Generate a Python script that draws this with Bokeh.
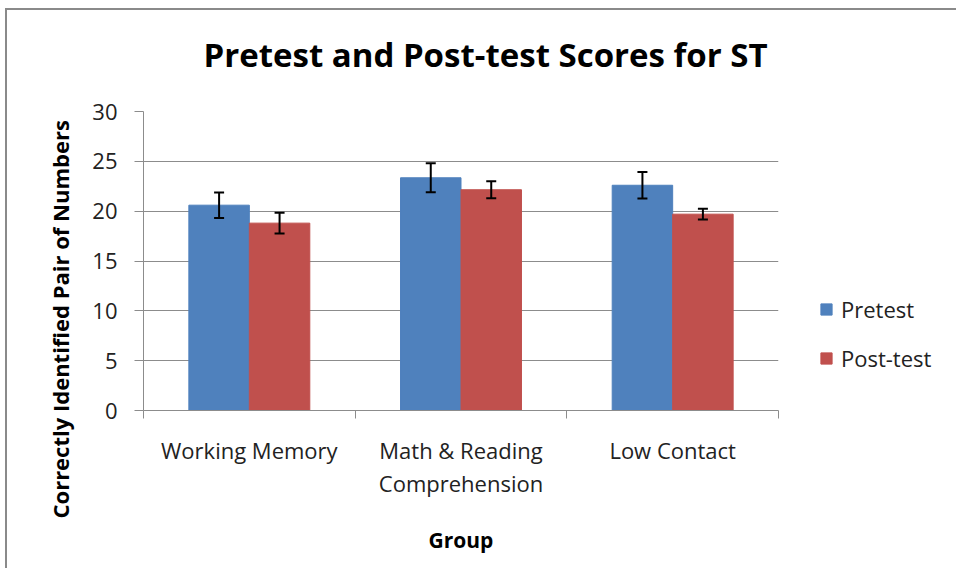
import numpy as np
from bokeh.plotting import figure
from bokeh.models import (ColumnDataSource, Whisker, TeeHead, Title, Legend, LegendItem,
                          FixedTicker, Range1d)
from bokeh.embed import file_html
from bokeh.resources import INLINE

# ---- data ----
groups = ["Working Memory", "Math & Reading Comprehension", "Low Contact"]
group_labels = ["Working Memory", "Math & Reading\nComprehension", "Low Contact"]
series = ["Pretest", "Post-test"]
pretest = [20.6, 23.35, 22.6]
pretest_err = [1.28, 1.45, 1.32]
posttest = [18.8, 22.15, 19.7]
posttest_err = [1.05, 0.86, 0.54]
y_ticks = [0, 5, 10, 15, 20, 25, 30]
colors = ["#4F81BD", "#C0504D"]
title_text = "Pretest and Post-test Scores for ST"
y_title = "Correctly Identified Pair of Numbers"
x_title = "Group"

FONT = "Open Sans"
GRID = "#8c8c8c"

n = len(groups)
bar_w = 1 / 3.5
centers = np.arange(n) + 0.5
x_pre = centers - bar_w / 2
x_post = centers + bar_w / 2

p = figure(frame_width=635, frame_height=299, output_backend="svg", toolbar_location=None,
           x_range=Range1d(0, n), y_range=Range1d(0, 30),
           min_border_left=136, min_border_right=170, min_border_top=101,
           min_border_bottom=158)
p.styles = {"margin-left": "5px", "margin-top": "8px",
            "border-left": "2px solid #8a8a8a", "border-top": "2px solid #8a8a8a"}
p.outline_line_color = None
p.background_fill_color = "white"
p.border_fill_color = "white"

src_pre = ColumnDataSource(dict(x=x_pre, top=pretest,
                                upper=np.array(pretest) + np.array(pretest_err),
                                lower=np.array(pretest) - np.array(pretest_err)))
src_post = ColumnDataSource(dict(x=x_post, top=posttest,
                                 upper=np.array(posttest) + np.array(posttest_err),
                                 lower=np.array(posttest) - np.array(posttest_err)))

r_pre = p.vbar(x="x", top="top", bottom=0, width=bar_w, source=src_pre,
               fill_color=colors[0], line_color=colors[0])
r_post = p.vbar(x="x", top="top", bottom=0, width=bar_w, source=src_post,
                fill_color=colors[1], line_color=colors[1])

for src in (src_pre, src_post):
    w = Whisker(base="x", upper="upper", lower="lower", source=src, dimension="height",
                line_color="black", line_width=2, level="annotation",
                upper_head=TeeHead(size=10, line_width=2, line_color="black"),
                lower_head=TeeHead(size=10, line_width=2, line_color="black"))
    p.add_layout(w)

# grid
p.xgrid.grid_line_color = None
p.ygrid.ticker = FixedTicker(ticks=y_ticks)
p.ygrid.grid_line_color = GRID
p.ygrid.grid_line_width = 1

# y axis
p.yaxis.ticker = FixedTicker(ticks=y_ticks)
p.yaxis.axis_line_color = GRID
p.yaxis.major_tick_line_color = GRID
p.yaxis.major_tick_out = 9
p.yaxis.major_tick_in = 0
p.yaxis.minor_tick_line_color = None
p.yaxis.major_label_standoff = 17
p.yaxis.major_label_text_font = FONT
p.yaxis.major_label_text_font_size = "22px"
p.yaxis.major_label_text_color = "#222222"

# x axis
p.xaxis.ticker = FixedTicker(ticks=list(centers), minor_ticks=list(np.arange(n + 1)))
p.xaxis.major_label_overrides = {float(c): lab for c, lab in zip(centers, group_labels)}
p.xaxis.axis_line_color = GRID
p.xaxis.major_tick_line_color = None
p.xaxis.minor_tick_line_color = GRID
p.xaxis.minor_tick_out = 8
p.xaxis.minor_tick_in = 0
p.xaxis.major_label_standoff = 16
p.xaxis.major_label_text_font = FONT
p.xaxis.major_label_text_font_size = "22px"
p.xaxis.major_label_text_color = "#222222"
p.xaxis.major_label_text_line_height = 1.1
p.xaxis.axis_label = x_title
p.xaxis.axis_label_text_font = FONT
p.xaxis.axis_label_text_font_size = "21px"
p.xaxis.axis_label_text_font_style = "bold"
p.xaxis.axis_label_text_color = "black"
p.xaxis.axis_label_standoff = 25

# titles
p.add_layout(Title(text=title_text, align="left", offset=60, text_font=FONT,
                   text_font_size="33px", text_font_style="bold", text_color="black",
                   standoff=0, padding=dict(left=0, right=0, top=0, bottom=35)), "above")
p.add_layout(Title(text=y_title, align="left", offset=-108, text_font=FONT,
                   text_font_size="22px", text_font_style="bold", text_color="black",
                   standoff=30), "left")

legend = Legend(items=[LegendItem(label=series[0], renderers=[r_pre]),
                       LegendItem(label=series[1], renderers=[r_post])],
                location=(41, 37), padding=0, margin=0, spacing=19,
                glyph_width=14, glyph_height=14, label_standoff=8, label_height=22,
                border_line_color=None, background_fill_alpha=0,
                label_text_font=FONT, label_text_font_size="22px",
                label_text_color="#222222")
p.add_layout(legend, "right")

open("out.html", "w").write(file_html(p, INLINE))
